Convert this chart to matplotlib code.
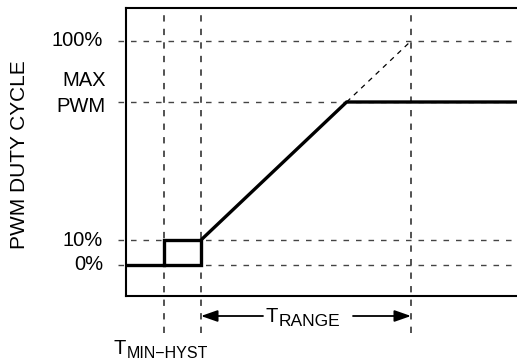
import numpy as np
import matplotlib
matplotlib.use('Agg')
import matplotlib.pyplot as plt

plt.rcParams['font.family'] = ['Liberation Sans', 'DejaVu Sans']

# schematic units (x: temperature, y: drawn duty level)
t_hyst = 38
t_min = 75
t_max = 285
x_end = 391
level_names = ['0%', '10%', 'PWM', '100%']
levels = [0, 25, 163, 224]
lvl0, lvl10, lvl_max, lvl100 = levels

# where the ramp reaches MAX PWM
x_corner = t_min + (lvl_max - lvl10) / (lvl100 - lvl10) * (t_max - t_min)

fig = plt.figure(figsize=(5.17, 3.6), dpi=100)
ax = fig.add_axes([126 / 517, 64 / 360, 391 / 517, 288 / 360])
ax.set_xlim(0, x_end)
ax.set_ylim(-31, 257)

ax.spines['right'].set_visible(False)
for s in ['left', 'top', 'bottom']:
    ax.spines[s].set_linewidth(1.5)
ax.set_xticks([])
ax.set_yticks([])

fs = 14.5
grey = '#444444'

# horizontal dashed guides
for lv in levels:
    ax.plot([-8, x_end], [lv, lv], color=grey, lw=1.0, dashes=(4, 5), clip_on=False, zorder=1)

# vertical dashed guides
for xv in [t_hyst, t_min, t_max]:
    ax.plot([xv, xv], [-68, 257], color=grey, lw=1.3, dashes=(3.5, 4), clip_on=False, zorder=1)

# dashed extension of the ramp to 100%
ax.plot([x_corner, t_max], [lvl_max, lvl100], color='k', lw=0.9, dashes=(4, 4), zorder=2)

# hysteresis loop and ramp
ax.plot([0, t_min, t_min, t_hyst, t_hyst], [lvl0, lvl0, lvl10, lvl10, lvl0],
        color='k', lw=2.4, solid_joinstyle='miter', zorder=3)
ax.plot([t_min, x_corner, x_end], [lvl10, lvl_max, lvl_max],
        color='k', lw=2.4, solid_joinstyle='miter', zorder=3, clip_on=False)

# y labels
for name, lv in zip(level_names, levels):
    if name == 'PWM':
        ax.text(-21, lv - 5, name, ha='right', va='center', fontsize=fs)
        ax.text(-20, lv + 21, 'MAX', ha='right', va='center', fontsize=fs)
    else:
        ax.text(-23, lv, name, ha='right', va='center', fontsize=fs)

fig.text(20 / 517, 1 - 155 / 360, 'PWM DUTY CYCLE', rotation=90, ha='center', va='center', fontsize=15)

# T_RANGE arrows
y_arr = -51
ax.annotate('', xy=(t_min, y_arr), xytext=(137, y_arr), annotation_clip=False,
            arrowprops=dict(arrowstyle='-|>,head_length=1.0,head_width=0.35', mutation_scale=10,
                            color='k', lw=1.3, shrinkA=0, shrinkB=0))
ax.annotate('', xy=(t_max, y_arr), xytext=(227, y_arr), annotation_clip=False,
            arrowprops=dict(arrowstyle='-|>,head_length=1.0,head_width=0.35', mutation_scale=10,
                            color='k', lw=1.3, shrinkA=0, shrinkB=0))
ax.text(139, y_arr, 'T', ha='left', va='center', fontsize=14.5, clip_on=False)
ax.text(153, y_arr - 6, 'RANGE', ha='left', va='center', fontsize=12.5, clip_on=False)

# T_MIN-HYST label
ax.text(-13, -83, 'T', ha='left', va='center', fontsize=14.5, clip_on=False)
ax.text(1, -88, 'MIN\u2212HYST', ha='left', va='center', fontsize=11.5, clip_on=False)

fig.savefig('out.png', dpi=100)
